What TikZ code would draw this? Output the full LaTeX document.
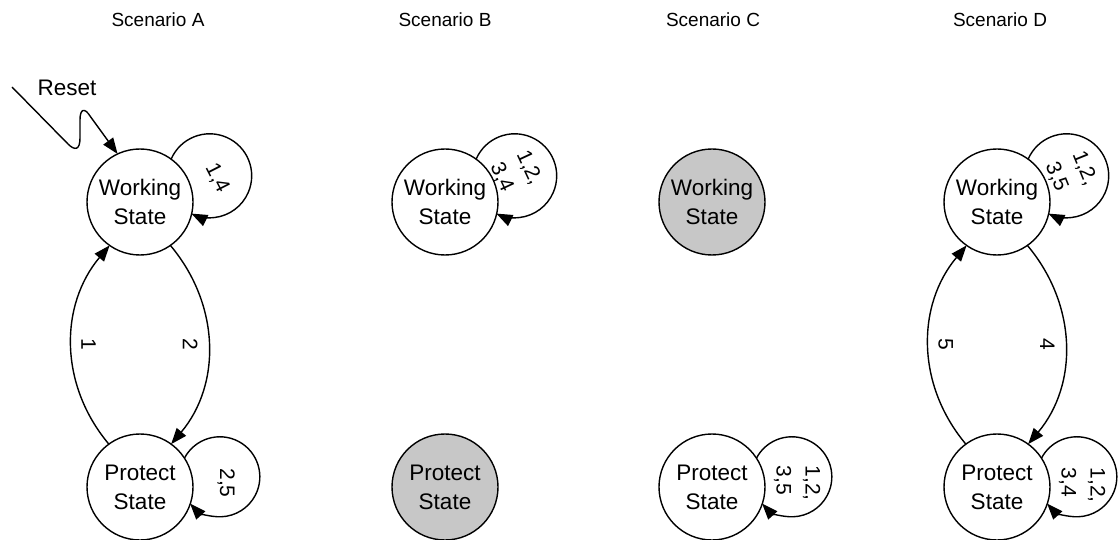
\documentclass[tikz,border=0pt]{standalone}
\usepackage{fontspec}
\setmainfont{Liberation Sans}
\usetikzlibrary{arrows.meta}
\begin{document}
\begin{tikzpicture}[x=1pt,y=1pt,
  every node/.style={inner sep=0pt, outer sep=0pt},
  statenode/.style={draw, circle, line width=1.4pt, minimum size=106pt, align=center,
    font=\fontsize{22.5}{29}\selectfont},
  idlenode/.style={statenode, fill=black!22},
  heading/.style={font=\fontsize{19}{23}\selectfont},
  lbl/.style={font=\fontsize{21}{29}\selectfont, align=left},
  conn/.style={line width=1.4pt, -{Triangle[length=16pt,width=12pt]}},
]
\useasboundingbox (0,0) rectangle (1119,-540);

% scenario headings
\node[heading] (tA) at (158,-20) {Scenario A};
\node[heading] (tB) at (445,-20) {Scenario B};
\node[heading] (tC) at (713,-20) {Scenario C};
\node[heading] (tD) at (1000,-20) {Scenario D};

% states
\node[statenode] (wA) at (140,-202) {Working\\State};
\node[statenode] (pA) at (140,-487) {Protect\\State};
\node[statenode] (wB) at (445,-202) {Working\\State};
\node[idlenode]  (pB) at (445,-487) {Protect\\State};
\node[idlenode]  (wC) at (712,-202) {Working\\State};
\node[statenode] (pC) at (712,-487) {Protect\\State};
\node[statenode] (wD) at (997,-202) {Working\\State};
\node[statenode] (pD) at (997,-487) {Protect\\State};

% reset input
\coordinate (rs) at (12,-87);
\node[font=\fontsize{22.5}{29}\selectfont] (resetlbl) at (67,-88) {Reset};
\draw[conn] (rs) -- (68,-144) .. controls (75,-151) and (80,-150) .. (80,-138)
  -- (80,-120) .. controls (80,-108) and (85,-108) .. (90,-116) -- (wA.115);

% self loops on working states
\draw[conn] (wA.54) arc[start angle=156.6, end angle=-115.9, radius=42];
\draw[conn] (wB.54) arc[start angle=156.6, end angle=-115.9, radius=42];
\draw[conn] (wD.54) arc[start angle=156.6, end angle=-115.9, radius=42];
% self loops on protect states
\draw[conn] (pA.33) arc[start angle=152.2, end angle=-138, radius=40];
\draw[conn] (pC.33) arc[start angle=152.2, end angle=-138, radius=40];
\draw[conn] (pD.33) arc[start angle=152.2, end angle=-138, radius=40];

% loop labels
\node[lbl, rotate=-63] (lA1) at (217,-178) {1,4};
\node[lbl, rotate=-90] (lA2) at (226,-483) {2,5};
\node[lbl, rotate=-65] (lB1) at (516,-174) {1,2,\\3,4};
\node[lbl, rotate=-90] (lC2) at (797,-483) {1,2,\\3,5};
\node[lbl, rotate=-68] (lD1) at (1071,-174) {1,2,\\3,5};
\node[lbl, rotate=-90] (lD2) at (1082,-485) {1,2,\\3,4};

% transitions between states
\draw[conn] (pA.126) to[out=130,in=230,looseness=1]
  node[lbl, xshift=17pt, rotate=-90] (eA1) {1} (wA.235);
\draw[conn] (wA.305) to[out=-50,in=50,looseness=1]
  node[lbl, xshift=-18pt, rotate=-90] (eA2) {2} (pA.54);
\draw[conn] (pD.126) to[out=130,in=230,looseness=1]
  node[lbl, xshift=17pt, rotate=-90] (eD1) {5} (wD.235);
\draw[conn] (wD.305) to[out=-50,in=50,looseness=1]
  node[lbl, xshift=-18pt, rotate=-90] (eD2) {4} (pD.54);
\end{tikzpicture}
\end{document}
